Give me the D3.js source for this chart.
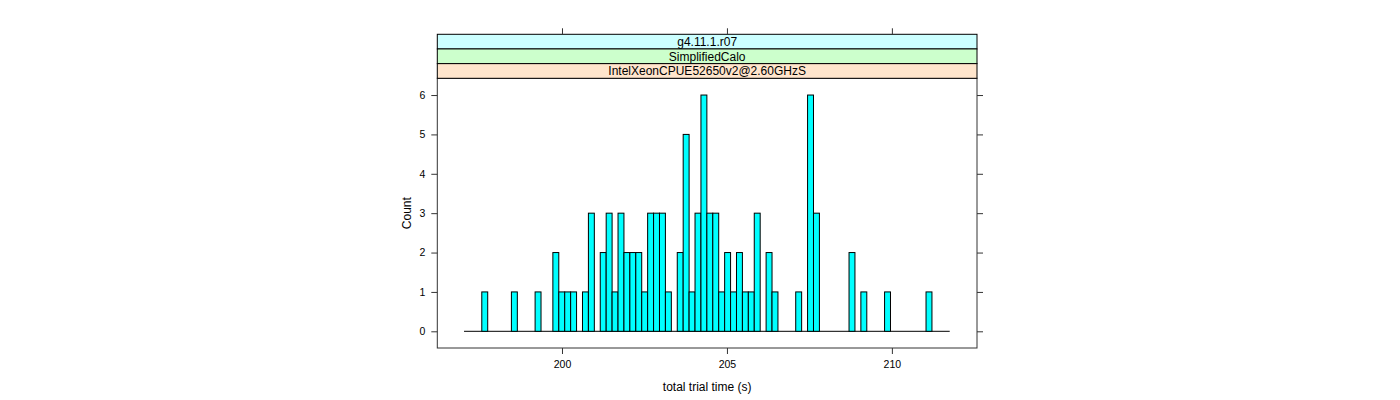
<!DOCTYPE html>
<html>
<head>
<meta charset="utf-8">
<script src="https://cdn.jsdelivr.net/npm/d3@7"></script>
<style>
  html, body { margin: 0; padding: 0; background: #fff; }
  svg { display: block; font-family: "Liberation Sans", Arial, Helvetica, sans-serif; }
</style>
</head>
<body>
<svg id="chart" width="1400" height="400"></svg>
<script>
// ---- data ----
const stripLabels = ["g4.11.1.r07", "SimplifiedCalo", "IntelXeonCPUE52650v2@2.60GHzS"];
const stripColors = ["#ccffff", "#ccffcc", "#ffe5cc"];
const firstBreak = 197.03;   // left edge of first histogram bin (s)
const binWidth = 0.17955;    // histogram bin width (s)
const counts = [
  0,0,0,1,0,0,0,0,1,0,
  0,0,1,0,0,2,1,1,1,0,
  1,3,0,2,3,1,3,2,2,2,
  1,3,3,3,1,0,2,5,1,3,
  6,3,3,1,2,1,2,1,1,3,
  0,2,1,0,0,0,1,0,6,3,
  0,0,0,0,0,2,0,1,0,0,
  0,1,0,0,0,0,0,0,1,0,
  0,0
];
const xTicks = [200, 205, 210];
const yTicks = [0, 1, 2, 3, 4, 5, 6];
const xLabel = "total trial time (s)";
const yLabel = "Count";

// ---- layout ----
const panel = { left: 437.3, right: 977, top: 78.3, bottom: 348 };
const stripH = 14.67;
const stripTop = panel.top - stripH * stripLabels.length;

const svg = d3.select("#chart");

const x = d3.scaleLinear().domain([196.22, 212.58]).range([panel.left, panel.right]);
const y = d3.scaleLinear().domain([-0.424, 6.425]).range([panel.bottom, panel.top]);

const bins = counts.map((c, i) => ({
  x0: firstBreak + i * binWidth,
  x1: firstBreak + (i + 1) * binWidth,
  count: c
}));

const lineCol = "#333";

// bars
const g = svg.append("g");
g.append("line")
  .attr("x1", x(bins[0].x0)).attr("x2", x(bins[bins.length - 1].x1))
  .attr("y1", y(0)).attr("y2", y(0))
  .attr("stroke", "#000").attr("stroke-width", 1);

g.selectAll("rect.bar")
  .data(bins.filter(d => d.count > 0))
  .join("rect")
  .attr("class", "bar")
  .attr("x", d => x(d.x0))
  .attr("width", d => x(d.x1) - x(d.x0))
  .attr("y", d => y(d.count))
  .attr("height", d => y(0) - y(d.count))
  .attr("fill", "#00ffff")
  .attr("stroke", "#000")
  .attr("stroke-width", 1);

// panel box
svg.append("rect")
  .attr("x", panel.left).attr("y", panel.top)
  .attr("width", panel.right - panel.left).attr("height", panel.bottom - panel.top)
  .attr("fill", "none").attr("stroke", lineCol).attr("stroke-width", 1);

// strips
stripLabels.forEach((lab, i) => {
  const top = stripTop + i * stripH;
  svg.append("rect")
    .attr("x", panel.left).attr("y", top)
    .attr("width", panel.right - panel.left).attr("height", stripH)
    .attr("fill", stripColors[i]).attr("stroke", "#000").attr("stroke-width", 1);
  svg.append("text")
    .attr("x", (panel.left + panel.right) / 2)
    .attr("y", top + stripH / 2 + 4.3)
    .attr("text-anchor", "middle")
    .attr("font-size", 12)
    .attr("fill", "#000")
    .text(lab);
});

// axes
function styleAxis(sel) {
  sel.select(".domain").remove();
  sel.selectAll(".tick line").attr("stroke", lineCol);
  sel.selectAll(".tick text").attr("fill", "#000").attr("font-size", 10.5)
     .attr("font-family", "'Liberation Sans', Arial, sans-serif");
}

svg.append("g")
  .attr("transform", `translate(0,${panel.bottom})`)
  .call(d3.axisBottom(x).tickValues(xTicks).tickSize(6).tickPadding(7).tickFormat(d3.format("d")))
  .call(styleAxis);

svg.append("g")
  .attr("transform", `translate(0,${stripTop})`)
  .call(d3.axisTop(x).tickValues(xTicks).tickSize(6).tickFormat(""))
  .call(styleAxis);

svg.append("g")
  .attr("transform", `translate(${panel.left},0)`)
  .call(d3.axisLeft(y).tickValues(yTicks).tickSize(6).tickPadding(6).tickFormat(d3.format("d")))
  .call(styleAxis);

svg.append("g")
  .attr("transform", `translate(${panel.right},0)`)
  .call(d3.axisRight(y).tickValues(yTicks).tickSize(6).tickFormat(""))
  .call(styleAxis);

// axis titles
svg.append("text")
  .attr("x", (panel.left + panel.right) / 2)
  .attr("y", 391)
  .attr("text-anchor", "middle")
  .attr("font-size", 12)
  .text(xLabel);

svg.append("text")
  .attr("transform", `translate(410.5,${(panel.top + panel.bottom) / 2}) rotate(-90)`)
  .attr("text-anchor", "middle")
  .attr("font-size", 12)
  .text(yLabel);
</script>
</body>
</html>
